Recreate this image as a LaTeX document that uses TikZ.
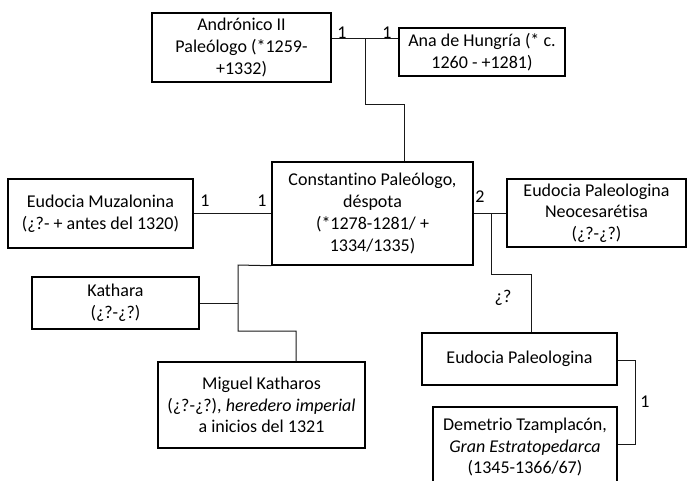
\documentclass[tikz,border=0pt]{standalone}
\usepackage{fontspec}
\setmainfont{Carlito}[Ligatures=NoCommon]
\begin{document}
\begin{tikzpicture}[x=1pt,y=-1pt,
  person/.style={draw=black, line width=1.5pt, align=center, inner sep=0pt,
    font=\fontsize{18}{21.7}\selectfont},
  conn/.style={draw=black!90, line width=1pt},
  lbl/.style={font=\fontsize{18}{21.7}\selectfont, inner sep=0pt}]
\useasboundingbox (0,0) rectangle (687,480);
\begin{scope}
\clip (0,0) rectangle (687,480);
\node[person, minimum width=179pt, minimum height=69pt] (andr) at (241.5,47.5) {Andrónico II\\Paleólogo (*1259-\\+1332)};
\node[person, minimum width=166pt, minimum height=48pt] (ana) at (482,52) {Ana de Hungría (* c.\\1260 - +1281)};
\node[person, minimum width=185pt, minimum height=69pt] (muz) at (100.5,213.5) {Eudocia Muzalonina\\(¿?- + antes del 1320)};
\node[person, minimum width=201pt, minimum height=103pt] (const) at (372.5,213.5) {Constantino Paleólogo,\\déspota\\(*1278-1281/ +\\1334/1335)};
\node[person, minimum width=179pt, minimum height=68pt] (neo) at (596.5,213) {Eudocia Paleologina\\Neocesarétisa\\(¿?-¿?)};
\node[person, minimum width=167pt, minimum height=52pt] (kath) at (115.5,303) {Kathara\\(¿?-¿?)};
\node[person, minimum width=207pt, minimum height=86pt] (mig) at (261.5,405) {Miguel Katharos\\(¿?-¿?), \textit{heredero imperial}\\a inicios del 1321};
\node[person, minimum width=195pt, minimum height=52pt] (eupal) at (519.5,359) {Eudocia Paleologina};
\node[person, minimum width=184pt, minimum height=80pt] (dem) at (525,447) {Demetrio Tzamplacón,\\\textit{Gran Estratopedarca}\\(1345-1366/67)};
\end{scope}

% Andronico -- Ana
\coordinate (m1) at (365,38);
\coordinate (c1) at (404,104);
\draw[conn] (andr.east |- m1) -- (ana.west |- m1);
\draw[conn] (m1) |- (c1) -- (c1 |- const.north);
\node[lbl] (l1) at (342,33) {1};
\node[lbl] (l2) at (387,33) {1};

% Muzalonina -- Constantino
\draw[conn] (muz.east) -- (const.west |- muz.east);
\node[lbl] (l3) at (205,201) {1};
\node[lbl] (l4) at (262,201) {1};

% Constantino -- Kathara / Miguel
\coordinate (k1) at (238,265);
\coordinate (k2) at (238,331);
\coordinate (k3) at (296,331);
\draw[conn] (const.south west) -- (k1) -- (k2) -- (k3) -- (k3 |- mig.north);
\draw[conn] (kath.east) -- (kath.east -| k1);

% Constantino -- Neocesaretisa
\draw[conn] (const.east |- neo.west) -- (neo.west);
\node[lbl] (l5) at (480,197) {2};
\coordinate (n1) at (491,213);
\coordinate (n2) at (531,274);
\draw[conn] (n1) |- (n2) -- (n2 |- eupal.north);
\node[lbl] (l6) at (503,298) {¿?};

% Eudocia -- Demetrio
\coordinate (d1) at (635,360);
\coordinate (d2) at (635,444);
\draw[conn] (eupal.east |- d1) -- (d1) -- (d2) -- (dem.east |- d2);
\node[lbl] (l7) at (645,402) {1};
\end{tikzpicture}
\end{document}
